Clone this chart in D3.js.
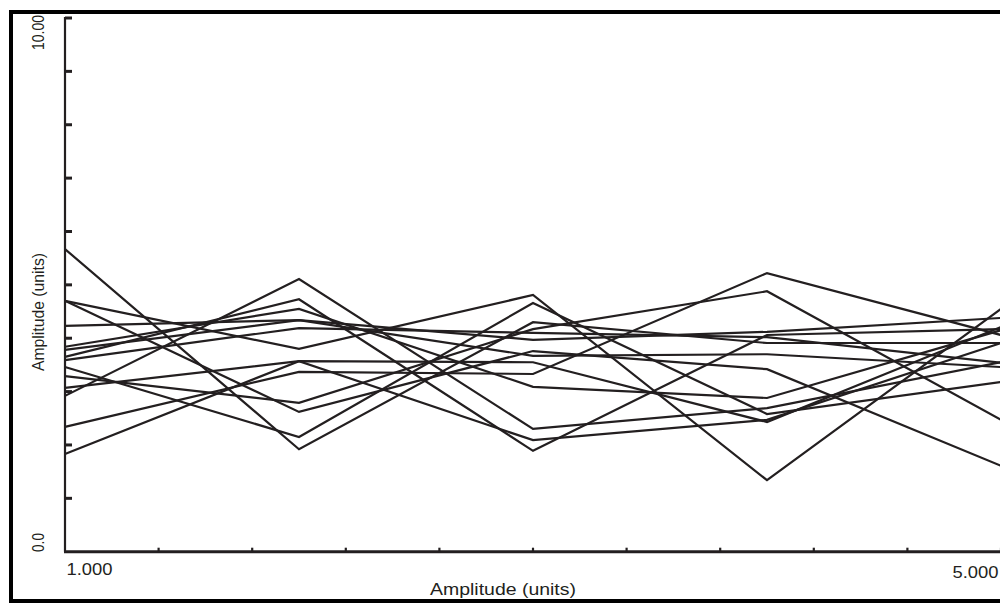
<!DOCTYPE html>
<html>
<head>
<meta charset="utf-8">
<script src="https://cdn.jsdelivr.net/npm/d3@7"></script>
<style>
  html, body { margin: 0; padding: 0; background: #fff; }
  svg { display: block; }
  text { font-family: "Liberation Sans", Arial, sans-serif; fill: #231f20; }
</style>
</head>
<body>
<svg id="chart" width="1000" height="603"></svg>
<script>
// ---- data ----
const xValues = [1, 2, 3, 4, 5];
const s01 = [5.67, 1.92, 4.30, 3.91, 3.91];
const s02 = [4.70, 3.80, 4.81, 1.34, 4.55];
const s03 = [4.70, 2.62, 3.76, 3.42, 1.61];
const s04 = [4.23, 4.34, 3.97, 4.12, 4.38];
const s05 = [2.92, 5.11, 2.30, 2.69, 3.55];
const s06 = [3.65, 4.73, 1.89, 4.06, 4.17];
const s07 = [3.84, 4.55, 3.09, 2.88, 4.15];
const s08 = [3.78, 4.34, 3.67, 3.70, 3.46];
const s09 = [3.59, 4.19, 4.10, 4.02, 3.54];
const s10 = [3.29, 2.79, 4.17, 4.88, 2.47];
const s11 = [3.07, 3.57, 3.55, 2.43, 4.21];
const s12 = [2.34, 3.37, 3.33, 5.22, 4.06];
const s13 = [1.83, 3.57, 2.09, 2.47, 3.91];
const s14 = [3.46, 2.15, 4.66, 2.58, 3.18];
const seriesList = [s01, s02, s03, s04, s05, s06, s07, s08, s09, s10, s11, s12, s13, s14];

const yTickValues = [0, 1, 2, 3, 4, 5, 6, 7, 8, 9, 10];
const xTickValues = [1, 1.4, 1.8, 2.2, 2.6, 3, 3.4, 3.8, 4.2, 4.6, 5];
const xTickLabels = ["1.000", "5.000"];
const yTickLabels = ["0.0", "10.00"];
const xTitle = "Amplitude (units)";
const yTitle = "Amplitude (units)";

// ---- drawing ----
const ink = "#231f20";
const svg = d3.select("#chart");
const x = d3.scaleLinear().domain([1, 5]).range([65, 1001]);
const y = d3.scaleLinear().domain([0, 10]).range([551.7, 18]);

// outer frame
svg.append("rect")
  .attr("x", 11).attr("y", 12).attr("width", 1000).attr("height", 589)
  .attr("fill", "none").attr("stroke", "#000").attr("stroke-width", 4);

// series lines
const line = d3.line().x((d, i) => x(xValues[i])).y(d => y(d));
svg.append("g").selectAll("path").data(seriesList).join("path")
  .attr("d", line)
  .attr("fill", "none")
  .attr("stroke", ink)
  .attr("stroke-width", 2.2)
  .attr("stroke-linejoin", "miter");

// y axis
const yAxis = svg.append("g");
yAxis.append("line")
  .attr("x1", x(1)).attr("x2", x(1)).attr("y1", y(10) - 1).attr("y2", y(0))
  .attr("stroke", ink).attr("stroke-width", 2.2);
yAxis.selectAll("line.tick").data(yTickValues.slice(1)).join("line")
  .attr("class", "tick")
  .attr("x1", x(1)).attr("x2", x(1) + 7)
  .attr("y1", d => y(d)).attr("y2", d => y(d))
  .attr("stroke", ink).attr("stroke-width", 3);

// x axis
const xAxis = svg.append("g");
xAxis.append("line")
  .attr("x1", x(1) - 1).attr("x2", 1000).attr("y1", y(0)).attr("y2", y(0))
  .attr("stroke", ink).attr("stroke-width", 3);
xAxis.selectAll("line.tick").data(xTickValues.slice(1)).join("line")
  .attr("class", "tick")
  .attr("x1", d => x(d)).attr("x2", d => x(d))
  .attr("y1", y(0)).attr("y2", y(0) - 4)
  .attr("stroke", ink).attr("stroke-width", 2.2);

// x tick labels
svg.append("text").attr("x", 66.5).attr("y", 574.5)
  .attr("font-size", 17).attr("textLength", 46).attr("lengthAdjust", "spacingAndGlyphs")
  .text(xTickLabels[0]);
svg.append("text").attr("x", 998.5).attr("y", 577.5).attr("text-anchor", "end")
  .attr("font-size", 17).attr("textLength", 46).attr("lengthAdjust", "spacingAndGlyphs")
  .text(xTickLabels[1]);

// y tick labels (rotated)
svg.append("text").attr("transform", "translate(43.5,552) rotate(-90)")
  .attr("font-size", 17).attr("textLength", 19).attr("lengthAdjust", "spacingAndGlyphs")
  .text(yTickLabels[0]);
svg.append("text").attr("transform", "translate(43.5,50) rotate(-90)")
  .attr("font-size", 17).attr("textLength", 35).attr("lengthAdjust", "spacingAndGlyphs")
  .text(yTickLabels[1]);

// axis titles
svg.append("text").attr("x", 503).attr("y", 595).attr("text-anchor", "middle")
  .attr("font-size", 17).attr("textLength", 146).attr("lengthAdjust", "spacingAndGlyphs")
  .text(xTitle);
svg.append("text").attr("transform", "translate(43.5,312) rotate(-90)").attr("text-anchor", "middle")
  .attr("font-size", 17).attr("textLength", 118).attr("lengthAdjust", "spacingAndGlyphs")
  .text(yTitle);
</script>
</body>
</html>
